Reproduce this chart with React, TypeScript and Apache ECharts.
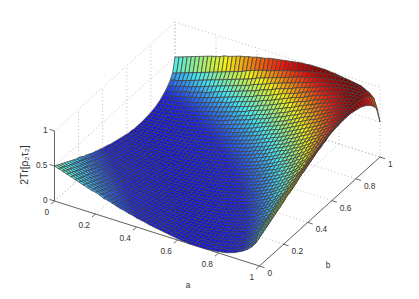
import React, { useEffect, useRef } from "react";
import * as echarts from "echarts";

const A_TICKS = [0, 0.2, 0.4, 0.6, 0.8, 1];
const B_TICKS = [0, 0.2, 0.4, 0.6, 0.8, 1];
const Z_TICKS = [0, 0.5, 1];
const A_LABELS = ["0", "0.2", "0.4", "0.6", "0.8", "1"];
const B_LABELS = ["0", "0.2", "0.4", "0.6", "0.8", "1"];
const Z_LABELS = ["0", "0.5", "1"];
const A_TITLE = "a";
const B_TITLE = "b";
const Z_TITLE = "2Tr[ρ₂τ₂]";

// Surface heights: rows are b = 0 .. 1, columns a = 0 .. 1, in steps of 0.02
const Z_GRID = [
[.50,.48,.46,.44,.42,.40,.38,.36,.34,.32, .31,.29,.26,.25,.23,.21,.19,.18,.16,.15, .13,.12,.11,.09,.08,.07,.06,.05,.04,.03, .02,.01,.01,.00,.00,.00,.00,.00,.01,.01, .02,.03,.04,.06,.08,.11,.14,.18,.23,.30,.50],
[.48,.46,.44,.42,.40,.38,.36,.34,.32,.31, .29,.27,.25,.23,.21,.19,.18,.17,.15,.13, .12,.11,.09,.08,.07,.06,.05,.04,.03,.02, .01,.01,.00,.00,.00,.00,.00,.00,.01,.02, .03,.04,.05,.07,.09,.12,.16,.20,.25,.32,.52],
[.46,.44,.42,.40,.38,.36,.34,.32,.31,.29, .27,.25,.23,.21,.19,.18,.17,.15,.13,.12, .11,.09,.08,.07,.06,.05,.04,.03,.02,.02, .01,.01,.00,.00,.00,.00,.00,.01,.01,.02, .03,.05,.06,.08,.10,.13,.17,.21,.26,.34,.54],
[.44,.42,.40,.38,.36,.34,.32,.31,.29,.27, .25,.23,.21,.19,.18,.17,.15,.14,.12,.11, .10,.08,.07,.06,.05,.04,.03,.02,.02,.01, .01,.00,.00,.00,.00,.00,.00,.00,.01,.03, .04,.05,.07,.09,.12,.15,.19,.23,.28,.36,.56],
[.42,.40,.38,.36,.34,.32,.31,.29,.27,.25, .23,.22,.19,.18,.17,.15,.14,.12,.11,.10, .08,.07,.06,.05,.04,.03,.03,.02,.01,.01, .00,.00,.00,.00,.00,.00,.01,.02,.03,.04, .05,.07,.08,.10,.13,.16,.20,.25,.30,.38,.58],
[.40,.38,.36,.34,.32,.31,.29,.27,.25,.23, .22,.20,.18,.17,.15,.14,.12,.11,.10,.08, .07,.06,.05,.04,.03,.03,.02,.01,.01,.00, .00,.00,.00,.00,.00,.01,.01,.02,.03,.04, .06,.07,.09,.12,.14,.18,.22,.26,.32,.40,.60],
[.38,.36,.34,.32,.31,.29,.27,.25,.23,.22, .20,.19,.17,.15,.14,.12,.11,.10,.08,.07, .06,.05,.04,.03,.03,.02,.01,.01,.00,.00, .00,.00,.00,.00,.01,.01,.02,.03,.04,.05, .07,.08,.10,.13,.16,.19,.23,.28,.34,.42,.62],
[.36,.34,.32,.31,.29,.27,.25,.23,.22,.20, .19,.17,.15,.14,.12,.11,.10,.09,.07,.06, .05,.04,.03,.03,.02,.01,.01,.01,.00,.00, .00,.00,.00,.00,.01,.02,.03,.04,.05,.06, .08,.10,.12,.14,.17,.21,.25,.30,.36,.44,.64],
[.34,.32,.31,.29,.27,.25,.23,.22,.20,.19, .17,.15,.14,.12,.11,.10,.09,.08,.06,.05, .05,.04,.03,.02,.02,.01,.01,.00,.00,.00, .00,.00,.00,.01,.02,.02,.03,.04,.06,.07, .09,.11,.13,.16,.19,.23,.27,.32,.38,.46,.66],
[.32,.31,.29,.27,.25,.23,.22,.20,.19,.17, .15,.14,.12,.11,.10,.09,.08,.07,.05,.05, .04,.03,.02,.02,.01,.01,.00,.00,.00,.00, .00,.00,.01,.01,.02,.03,.04,.05,.07,.08, .10,.12,.14,.17,.20,.24,.29,.34,.40,.48,.68],
[.31,.29,.27,.25,.23,.22,.20,.19,.17,.15, .14,.13,.11,.10,.09,.08,.07,.06,.05,.04, .03,.02,.02,.01,.01,.00,.00,.00,.00,.00, .00,.01,.01,.02,.03,.04,.05,.06,.08,.09, .12,.13,.16,.19,.22,.26,.30,.36,.42,.50,.70],
[.29,.27,.25,.23,.22,.20,.19,.17,.15,.14, .13,.11,.10,.09,.08,.07,.06,.05,.04,.03, .02,.02,.01,.01,.00,.00,.00,.00,.00,.00, .01,.01,.02,.03,.03,.04,.06,.07,.09,.10, .13,.15,.17,.20,.24,.28,.32,.38,.44,.52,.71],
[.26,.25,.23,.21,.19,.18,.17,.15,.14,.12, .11,.10,.08,.07,.06,.05,.05,.04,.03,.02, .02,.01,.01,.00,.00,.00,.00,.00,.00,.01, .01,.02,.03,.03,.04,.05,.07,.08,.10,.12, .14,.16,.19,.23,.26,.30,.35,.40,.46,.54,.74],
[.25,.23,.21,.19,.18,.17,.15,.14,.12,.11, .10,.09,.07,.06,.05,.05,.04,.03,.02,.02, .01,.01,.00,.00,.00,.00,.00,.00,.00,.01, .02,.02,.03,.04,.05,.07,.08,.10,.12,.13, .16,.18,.21,.24,.28,.32,.37,.42,.48,.57,.75],
[.23,.21,.19,.18,.17,.15,.14,.12,.11,.10, .09,.08,.06,.05,.05,.04,.03,.02,.02,.01, .01,.00,.00,.00,.00,.00,.00,.00,.01,.01, .02,.03,.04,.05,.06,.07,.09,.11,.13,.15, .17,.20,.23,.26,.30,.34,.39,.44,.50,.58,.77],
[.21,.19,.18,.17,.15,.14,.12,.11,.10,.09, .08,.07,.05,.05,.04,.03,.02,.02,.01,.01, .00,.00,.00,.00,.00,.00,.00,.01,.01,.02, .03,.04,.05,.06,.07,.08,.10,.12,.14,.16, .19,.21,.24,.28,.32,.36,.41,.46,.52,.60,.79],
[.19,.18,.17,.15,.14,.12,.11,.10,.09,.08, .07,.06,.05,.04,.03,.02,.02,.01,.01,.00, .00,.00,.00,.00,.00,.00,.01,.01,.02,.03, .03,.04,.05,.07,.08,.10,.12,.13,.15,.18, .20,.23,.26,.30,.33,.38,.43,.48,.54,.62,.81],
[.18,.17,.15,.14,.12,.11,.10,.09,.08,.07, .06,.05,.04,.03,.02,.02,.01,.01,.00,.00, .00,.00,.00,.00,.00,.01,.01,.02,.03,.03, .04,.05,.07,.08,.09,.11,.13,.15,.17,.19, .22,.25,.28,.32,.35,.40,.44,.50,.56,.64,.82],
[.16,.15,.13,.12,.11,.10,.08,.07,.06,.05, .05,.04,.03,.02,.02,.01,.01,.00,.00,.00, .00,.00,.00,.00,.01,.01,.02,.03,.03,.04, .05,.07,.08,.09,.11,.12,.14,.17,.19,.21, .24,.27,.30,.34,.38,.42,.47,.52,.58,.67,.83],
[.15,.13,.12,.11,.10,.08,.07,.06,.05,.05, .04,.03,.02,.02,.01,.01,.00,.00,.00,.00, .00,.00,.00,.01,.01,.02,.02,.03,.04,.05, .06,.07,.09,.10,.12,.14,.16,.18,.20,.23, .26,.29,.32,.36,.40,.44,.49,.54,.60,.69,.85],
[.13,.12,.11,.10,.08,.07,.06,.05,.05,.04, .03,.02,.02,.01,.01,.00,.00,.00,.00,.00, .00,.00,.01,.01,.02,.02,.03,.04,.05,.06, .07,.08,.10,.12,.13,.15,.17,.20,.22,.25, .28,.30,.34,.38,.42,.46,.51,.57,.62,.70,.87],
[.12,.11,.09,.08,.07,.06,.05,.04,.04,.03, .02,.02,.01,.01,.00,.00,.00,.00,.00,.00, .00,.01,.01,.02,.02,.03,.04,.05,.06,.07, .08,.10,.12,.13,.15,.17,.19,.22,.24,.27, .30,.33,.36,.40,.44,.48,.54,.59,.65,.72,.88],
[.11,.09,.08,.07,.06,.05,.04,.04,.03,.02, .02,.01,.01,.00,.00,.00,.00,.00,.00,.00, .01,.01,.02,.02,.03,.04,.05,.06,.07,.08, .10,.11,.13,.14,.17,.19,.21,.23,.26,.29, .32,.35,.38,.42,.46,.50,.55,.61,.67,.74,.89],
[.09,.08,.07,.06,.05,.04,.03,.03,.02,.02, .01,.01,.00,.00,.00,.00,.00,.00,.00,.01, .01,.02,.02,.03,.04,.05,.06,.07,.08,.10, .11,.13,.14,.16,.19,.20,.23,.25,.28,.31, .34,.37,.41,.44,.48,.53,.58,.63,.69,.76,.91],
[.08,.07,.06,.05,.04,.03,.03,.02,.02,.01, .01,.00,.00,.00,.00,.00,.00,.00,.01,.01, .02,.02,.03,.04,.05,.06,.07,.08,.09,.11, .12,.14,.16,.18,.20,.22,.25,.27,.30,.33, .36,.39,.43,.46,.50,.55,.60,.65,.71,.78,.92],
[.07,.06,.05,.04,.03,.03,.02,.01,.01,.01, .00,.00,.00,.00,.00,.00,.00,.01,.01,.02, .02,.03,.04,.05,.06,.07,.08,.09,.11,.12, .14,.16,.18,.20,.22,.24,.27,.30,.32,.35, .39,.41,.45,.49,.53,.57,.62,.68,.73,.80,.93],
[.06,.05,.04,.03,.03,.02,.01,.01,.01,.00, .00,.00,.00,.00,.00,.00,.01,.01,.02,.02, .03,.04,.05,.06,.07,.08,.09,.11,.12,.14, .15,.17,.19,.21,.24,.26,.29,.32,.34,.37, .41,.44,.47,.51,.55,.59,.64,.70,.75,.82,.94],
[.05,.04,.03,.02,.02,.01,.01,.01,.00,.00, .00,.00,.00,.00,.00,.01,.01,.02,.03,.03, .04,.05,.06,.07,.08,.09,.11,.12,.14,.15, .17,.19,.21,.23,.26,.28,.31,.34,.37,.40, .43,.46,.49,.54,.57,.62,.67,.72,.77,.83,.95],
[.04,.03,.02,.02,.01,.01,.00,.00,.00,.00, .00,.00,.00,.00,.01,.01,.02,.03,.03,.04, .05,.06,.07,.08,.09,.11,.12,.14,.15,.17, .19,.21,.23,.25,.28,.30,.33,.36,.39,.42, .45,.48,.52,.56,.60,.64,.69,.74,.79,.85,.96],
[.03,.02,.02,.01,.01,.00,.00,.00,.00,.00, .00,.00,.01,.01,.01,.02,.03,.03,.04,.05, .06,.07,.08,.10,.11,.12,.14,.15,.17,.19, .21,.23,.25,.28,.30,.33,.36,.39,.42,.44, .48,.51,.54,.58,.62,.67,.71,.76,.81,.86,.97],
[.02,.02,.01,.01,.00,.00,.00,.00,.00,.00, .00,.01,.01,.02,.02,.03,.03,.04,.05,.06, .07,.08,.10,.11,.12,.14,.15,.17,.19,.21, .23,.25,.28,.30,.33,.35,.38,.41,.44,.47, .50,.54,.57,.61,.65,.69,.73,.78,.83,.89,.98],
[.01,.01,.01,.00,.00,.00,.00,.00,.00,.00, .01,.01,.02,.02,.03,.04,.04,.05,.07,.07, .08,.10,.11,.13,.14,.16,.17,.19,.21,.23, .25,.28,.30,.32,.35,.38,.41,.44,.46,.49, .53,.56,.59,.63,.67,.71,.75,.80,.85,.90,.98],
[.01,.00,.00,.00,.00,.00,.00,.00,.00,.01, .01,.02,.03,.03,.04,.05,.05,.07,.08,.09, .10,.12,.13,.14,.16,.18,.19,.21,.23,.25, .28,.30,.32,.35,.38,.41,.43,.46,.49,.52, .55,.58,.62,.66,.70,.73,.78,.82,.86,.92,.99],
[.00,.00,.00,.00,.00,.00,.00,.00,.01,.01, .02,.03,.03,.04,.05,.06,.07,.08,.09,.10, .12,.13,.14,.16,.18,.20,.21,.23,.25,.28, .30,.32,.35,.37,.40,.43,.45,.48,.52,.54, .58,.61,.64,.68,.72,.75,.80,.84,.88,.93,.99],
[.00,.00,.00,.00,.00,.00,.01,.01,.02,.02, .03,.03,.04,.05,.06,.07,.08,.09,.11,.12, .13,.15,.17,.19,.20,.22,.24,.26,.28,.30, .33,.35,.38,.40,.43,.45,.48,.52,.54,.57, .61,.64,.67,.71,.74,.78,.82,.86,.90,.95,1.0],
[.00,.00,.00,.00,.00,.01,.01,.02,.02,.03, .04,.04,.05,.07,.07,.08,.10,.11,.12,.14, .15,.17,.19,.20,.22,.24,.26,.28,.30,.33, .35,.38,.40,.43,.45,.48,.51,.54,.57,.60, .63,.66,.70,.73,.76,.80,.84,.88,.91,.96,1.0],
[.00,.00,.00,.01,.01,.01,.02,.03,.03,.04, .05,.06,.07,.08,.09,.10,.12,.13,.14,.16, .17,.19,.21,.23,.25,.27,.29,.31,.33,.36, .38,.41,.43,.45,.48,.51,.54,.57,.60,.63, .66,.69,.72,.75,.79,.83,.86,.90,.93,.97,1.0],
[.00,.00,.01,.01,.02,.02,.03,.04,.04,.05, .06,.07,.08,.10,.11,.12,.13,.15,.17,.18, .20,.22,.23,.25,.27,.30,.31,.34,.36,.39, .41,.44,.46,.48,.51,.54,.57,.60,.63,.66, .69,.72,.75,.78,.82,.85,.88,.92,.95,.98,1.0],
[.01,.01,.01,.02,.03,.03,.04,.05,.06,.07, .08,.09,.10,.12,.13,.14,.15,.17,.19,.20, .22,.24,.26,.28,.30,.32,.34,.37,.39,.42, .44,.46,.49,.51,.54,.57,.60,.63,.66,.69, .72,.74,.77,.81,.84,.87,.90,.93,.96,.99,1.0],
[.01,.02,.02,.03,.04,.04,.05,.06,.07,.08, .09,.11,.12,.13,.15,.16,.18,.19,.21,.23, .25,.27,.29,.31,.33,.35,.37,.40,.42,.44, .47,.49,.52,.54,.57,.60,.63,.66,.69,.71, .74,.77,.80,.83,.86,.89,.92,.95,.97,.99,.99],
[.02,.03,.03,.04,.05,.06,.07,.08,.09,.10, .12,.13,.14,.16,.17,.19,.20,.22,.24,.26, .28,.30,.32,.34,.36,.39,.41,.43,.45,.48, .50,.53,.55,.58,.61,.63,.66,.69,.72,.74, .77,.80,.83,.85,.88,.91,.94,.96,.98,1.0,.98],
[.03,.04,.05,.05,.07,.07,.08,.10,.11,.12, .13,.15,.17,.18,.20,.21,.23,.25,.27,.29, .30,.33,.35,.37,.39,.42,.44,.46,.48,.51, .53,.56,.58,.61,.64,.66,.69,.72,.74,.77, .80,.83,.85,.87,.90,.93,.95,.97,.99,1.0,.97],
[.04,.05,.06,.07,.08,.09,.11,.12,.13,.14, .16,.17,.19,.21,.23,.24,.26,.28,.30,.32, .34,.36,.38,.41,.43,.45,.47,.49,.52,.54, .57,.59,.62,.64,.67,.70,.72,.75,.77,.80, .83,.85,.87,.90,.92,.95,.97,.98,.99,1.0,.96],
[.06,.07,.08,.09,.11,.12,.13,.14,.16,.17, .19,.20,.23,.24,.26,.28,.30,.32,.34,.36, .38,.40,.42,.44,.46,.49,.51,.53,.56,.58, .61,.63,.66,.68,.71,.73,.75,.78,.81,.83, .85,.87,.90,.92,.94,.96,.98,.99,1.0,1.0,.94],
[.08,.09,.11,.12,.13,.14,.16,.17,.19,.20, .22,.24,.26,.28,.30,.32,.33,.35,.38,.40, .42,.44,.46,.48,.50,.53,.55,.57,.60,.62, .65,.67,.70,.72,.74,.76,.79,.82,.84,.86, .88,.90,.92,.94,.96,.98,.99,1.0,1.0,.99,.92],
[.11,.12,.13,.15,.16,.18,.19,.21,.23,.24, .26,.28,.30,.32,.34,.36,.38,.40,.42,.44, .46,.48,.50,.53,.55,.57,.59,.62,.64,.67, .69,.71,.73,.75,.78,.80,.83,.85,.87,.89, .91,.93,.95,.96,.98,.99,1.0,1.0,1.0,.98,.89],
[.14,.15,.17,.19,.20,.22,.23,.25,.27,.29, .30,.32,.35,.37,.39,.41,.43,.45,.47,.49, .51,.53,.55,.58,.60,.62,.64,.67,.69,.71, .73,.75,.78,.80,.82,.84,.86,.88,.90,.92, .94,.95,.97,.98,.99,1.0,1.0,1.0,.99,.97,.86],
[.18,.20,.21,.23,.25,.26,.28,.30,.32,.34, .36,.38,.40,.42,.44,.46,.48,.50,.52,.54, .56,.59,.61,.63,.65,.68,.70,.72,.74,.76, .78,.80,.82,.84,.86,.88,.90,.92,.93,.95, .96,.97,.98,.99,1.0,1.0,1.0,.99,.98,.94,.82],
[.23,.25,.26,.28,.30,.32,.34,.36,.38,.40, .42,.44,.46,.48,.50,.52,.54,.56,.58,.60, .62,.65,.67,.69,.71,.73,.75,.77,.79,.81, .83,.85,.87,.88,.90,.92,.93,.95,.96,.97, .98,.99,1.0,1.0,1.0,1.0,.99,.98,.96,.91,.77],
[.30,.32,.34,.36,.38,.40,.42,.44,.46,.48, .50,.52,.54,.56,.58,.60,.62,.64,.67,.69, .71,.73,.75,.76,.78,.80,.82,.84,.86,.87, .89,.90,.92,.93,.95,.96,.97,.98,.99,.99, 1.0,1.0,1.0,1.0,.99,.98,.97,.94,.91,.86,.70],
[.50,.52,.54,.56,.58,.60,.62,.64,.66,.68, .69,.71,.74,.75,.77,.79,.81,.82,.84,.85, .87,.88,.89,.91,.92,.93,.94,.95,.96,.97, .98,.99,.99,1.0,1.0,1.0,1.0,1.0,.99,.99, .98,.97,.96,.94,.92,.89,.86,.82,.77,.70,.50],
];

const WIDTH = 419;
const HEIGHT = 299;
const ORIGIN = [54.5, 201];
const A_VEC = [205, 65];
const B_VEC = [120.5, -109];
const Z_PIXELS = 70;

function project(a: number, b: number, z: number): number[] {
  return [
    ORIGIN[0] + A_VEC[0] * a + B_VEC[0] * b,
    ORIGIN[1] + A_VEC[1] * a + B_VEC[1] * b - Z_PIXELS * z,
  ];
}

const COLOR_STOPS: [number, number[]][] = [
  [0, [20, 20, 235]],
  [0.125, [25, 35, 240]],
  [0.39, [70, 235, 240]],
  [0.65, [240, 240, 20]],
  [0.9, [235, 15, 10]],
  [1, [130, 0, 0]],
];

function jet(t: number): string {
  for (let k = 1; k < COLOR_STOPS.length; k++) {
    const [t0, c0] = COLOR_STOPS[k - 1];
    const [t1, c1] = COLOR_STOPS[k];
    if (t <= t1) {
      const f = (t - t0) / (t1 - t0);
      const c = c0.map((v, n) => Math.round(v + (c1[n] - v) * f));
      return `rgb(${c[0]},${c[1]},${c[2]})`;
    }
  }
  return "rgb(130,0,0)";
}

type Seg = [number, number, number, number, number];
const DOTTED = 0;
const SOLID = 1;

function segment(p: number[], q: number[], kind: number): Seg {
  return [p[0], p[1], q[0], q[1], kind];
}

function buildFrame(): Seg[] {
  const segs: Seg[] = [];
  for (const t of A_TICKS) {
    segs.push(segment(project(t, 0, 0), project(t, 1, 0), DOTTED));
    segs.push(segment(project(t, 1, 0), project(t, 1, 1), DOTTED));
  }
  for (const t of B_TICKS) {
    segs.push(segment(project(0, t, 0), project(1, t, 0), DOTTED));
    segs.push(segment(project(0, t, 0), project(0, t, 1), DOTTED));
  }
  for (const z of Z_TICKS) {
    segs.push(segment(project(0, 0, z), project(0, 1, z), DOTTED));
    segs.push(segment(project(0, 1, z), project(1, 1, z), DOTTED));
  }
  segs.push(segment(project(0, 0, 0), project(0, 0, 1), SOLID));
  segs.push(segment(project(0, 0, 0), project(1, 0, 0), SOLID));
  segs.push(segment(project(1, 0, 0), project(1, 1, 0), SOLID));
  for (const t of A_TICKS) {
    const p = project(t, 0, 0);
    segs.push(segment(p, [p[0] - 3.6, p[1] + 3.3], SOLID));
  }
  for (const t of B_TICKS) {
    const p = project(1, t, 0);
    segs.push(segment(p, [p[0] + 5, p[1] + 1.6], SOLID));
  }
  for (const z of Z_TICKS) {
    const p = project(0, 0, z);
    segs.push(segment(p, [p[0] - 5, p[1] - 1.6], SOLID));
  }
  return segs;
}

function buildCells(): number[][] {
  const n = Z_GRID.length - 1;
  const cells: number[][] = [];
  for (let j = n - 1; j >= 0; j--) {
    for (let i = 0; i < n; i++) cells.push([i, j]);
  }
  return cells;
}

const TEXT_COLOR = "#333";
const FONT = "Liberation Sans";
const FONT_SIZE = 8.3;

function label(text: string, x: number, y: number, align: string, extra: any = {}, size = FONT_SIZE) {
  return {
    type: "text",
    x,
    y,
    silent: true,
    ...extra,
    style: {
      text,
      fill: TEXT_COLOR,
      font: `${size}px "${FONT}"`,
      textAlign: align,
      textVerticalAlign: "middle",
    },
  };
}

function buildLabels() {
  const out: any[] = [];
  A_TICKS.forEach((t, k) => {
    const p = project(t, 0, 0);
    out.push(label(A_LABELS[k], p[0] - 5.5, p[1] + 10.5, "right"));
  });
  B_TICKS.forEach((t, k) => {
    const p = project(1, t, 0);
    out.push(label(B_LABELS[k], p[0] + 8, p[1] + 7, "left"));
  });
  Z_TICKS.forEach((z, k) => {
    const p = project(0, 0, z);
    out.push(label(Z_LABELS[k], p[0] - 7, p[1] - 1.5, "right"));
  });
  out.push(label(A_TITLE, 188, 285, "center"));
  out.push(label(B_TITLE, 328, 265, "center"));
  out.push(label(Z_TITLE, 24, 165, "center", { rotation: Math.PI / 2 }, 10.5));
  return out;
}

export default function App() {
  const ref = useRef<HTMLDivElement>(null);
  useEffect(() => {
    const chart = echarts.init(ref.current!, undefined, { renderer: "svg" });
    const n = Z_GRID.length - 1;
    chart.setOption({
      animation: false,
      backgroundColor: "#fff",
      grid: { left: 0, right: 0, top: 0, bottom: 0 },
      xAxis: { type: "value", min: 0, max: WIDTH, show: false },
      yAxis: { type: "value", min: 0, max: HEIGHT, inverse: true, show: false },
      graphic: buildLabels(),
      series: [
        {
          type: "custom",
          coordinateSystem: "cartesian2d",
          clip: false,
          silent: true,
          progressive: 0,
          data: buildFrame(),
          renderItem: (_p: any, api: any) => {
            const s = api.coord([api.value(0), api.value(1)]);
            const e = api.coord([api.value(2), api.value(3)]);
            const solid = api.value(4) === SOLID;
            return {
              type: "line",
              shape: { x1: s[0], y1: s[1], x2: e[0], y2: e[1] },
              style: solid
                ? { stroke: "#555", lineWidth: 0.9, fill: "none" }
                : { stroke: "#aaa", lineWidth: 0.8, lineDash: [1, 2.5], fill: "none" },
            };
          },
        },
        {
          type: "custom",
          coordinateSystem: "cartesian2d",
          clip: false,
          silent: true,
          progressive: 0,
          data: buildCells(),
          renderItem: (_p: any, api: any) => {
            const i = api.value(0);
            const j = api.value(1);
            const corners = [
              [i, j],
              [i + 1, j],
              [i + 1, j + 1],
              [i, j + 1],
            ];
            let sum = 0;
            const points = corners.map(([ci, cj]) => {
              const z = Z_GRID[cj][ci];
              sum += z;
              return api.coord(project(ci / n, cj / n, z));
            });
            return {
              type: "polygon",
              shape: { points },
              style: { fill: jet(sum / 4), stroke: "#404040", lineWidth: 0.75 },
            };
          },
        },
      ],
    });
    return () => chart.dispose();
  }, []);
  return (
    <div
      ref={ref}
      style={{ position: "absolute", left: 0, top: 0, width: WIDTH, height: HEIGHT }}
    />
  );
}
